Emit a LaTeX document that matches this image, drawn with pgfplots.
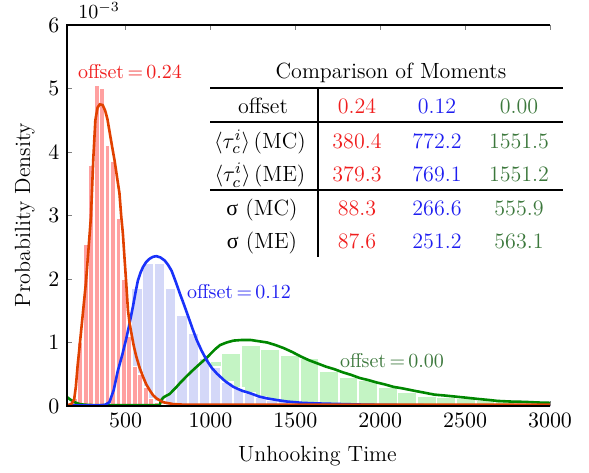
\documentclass[border=0pt]{standalone}
\usepackage{pgfplots}
\pgfplotsset{compat=1.18}
\usepackage{fontspec}
\newfontfamily\grk{Liberation Serif}
\definecolor{redtxt}{RGB}{240,30,30}
\definecolor{bluetxt}{RGB}{30,30,240}
\definecolor{greentxt}{RGB}{60,120,60}
\definecolor{redcurve}{RGB}{225,65,0}
\definecolor{bluecurve}{RGB}{25,50,250}
\definecolor{greencurve}{RGB}{0,135,0}
\definecolor{redbar}{RGB}{255,160,160}
\definecolor{bluebar}{RGB}{212,216,248}
\definecolor{greenbar}{RGB}{196,244,196}

\pgfplotstableread{
x y
202 0.12
234 1.00
266 2.55
298 3.80
330 5.05
362 5.00
394 4.10
426 3.85
458 2.95
490 2.00
522 1.10
554 0.62
586 0.50
618 0.30
650 0.12
682 0.06
714 0.03
}\redhist

\pgfplotstableread{
x y
368 0.04
434 0.25
501 1.05
567 1.86
633 2.25
700 2.25
766 1.86
832 1.43
899 1.15
965 0.75
1031 0.62
1098 0.38
1164 0.28
1230 0.20
1297 0.14
1363 0.10
1429 0.07
1495 0.05
1562 0.04
1628 0.03
1694 0.02
1760 0.015
}\bluehist

\pgfplotstableread{
x y
776 0.20
892 0.46
1007 0.70
1122 0.83
1237 0.96
1352 0.90
1468 0.80
1583 0.75
1698 0.55
1813 0.45
1928 0.41
2044 0.30
2159 0.22
2274 0.16
2389 0.14
2504 0.12
2620 0.09
2735 0.07
2850 0.05
2965 0.04
}\greenhist

\pgfplotstableread{
x y
155 0.01
180 0.03
197 0.10
207 0.30
217 0.62
227 0.88
237 1.15
250 1.50
266 1.93
281 2.45
296 2.98
310 3.90
322 4.50
335 4.70
348 4.75
365 4.74
380 4.65
393 4.52
407 4.30
421 4.08
435 3.87
450 3.60
464 3.35
474 3.00
484 2.72
494 2.32
504 1.93
514 1.51
524 1.30
534 1.15
548 0.95
563 0.78
583 0.60
603 0.46
622 0.34
642 0.25
662 0.17
682 0.12
720 0.06
780 0.03
850 0.02
1000 0.02
3000 0.02
}\redcurve

\pgfplotstableread{
x y
155 0.01
350 0.01
380 0.02
405 0.06
430 0.25
454 0.55
480 0.80
504 1.06
525 1.32
543 1.56
558 1.78
573 1.98
588 2.10
603 2.19
622 2.27
642 2.32
662 2.35
682 2.36
705 2.34
731 2.29
751 2.22
771 2.13
795 1.96
820 1.77
845 1.59
869 1.41
894 1.22
919 1.04
948 0.87
978 0.72
1008 0.60
1038 0.51
1087 0.39
1136 0.30
1186 0.24
1236 0.20
1285 0.15
1334 0.12
1400 0.09
1453 0.07
1540 0.05
1634 0.04
1780 0.03
1930 0.02
2100 0.015
2300 0.01
3000 0.01
}\bluecurve

\pgfplotstableread{
x y
155 0.14
175 0.10
200 0.06
230 0.03
260 0.02
300 0.015
700 0.015
712 0.10
725 0.14
760 0.19
800 0.30
820 0.36
860 0.47
899 0.57
940 0.67
978 0.76
1000 0.82
1030 0.90
1057 0.96
1095 1.00
1136 1.03
1186 1.04
1236 1.04
1285 1.02
1334 1.00
1383 0.96
1433 0.91
1482 0.85
1532 0.78
1581 0.72
1631 0.67
1680 0.62
1730 0.58
1780 0.53
1829 0.49
1880 0.44
1928 0.41
1980 0.37
2027 0.34
2080 0.30
2126 0.28
2200 0.24
2260 0.21
2317 0.18
2380 0.165
2436 0.15
2510 0.13
2580 0.11
2640 0.095
2690 0.08
2770 0.07
2850 0.065
2930 0.055
3000 0.05
}\greencurve

\begin{document}
\fontsize{11}{13}\selectfont
\begin{tikzpicture}
\begin{axis}[
  scale only axis,
  width=241.5pt, height=190.5pt,
  xmin=155, xmax=3000, ymin=0, ymax=6,
  xtick={500,1000,1500,2000,2500,3000},
  ytick={0,1,2,3,4,5,6},
  xtick pos=both, ytick pos=left,
  tick align=inside,
  major tick length=2.5pt,
  scaled ticks=false,
  xticklabel style={/pgf/number format/1000 sep={}},
  axis line style={draw=none},
  clip=true,
]
\addplot[ybar, bar width=115, bar shift=0pt, fill=greenbar, draw=white, line width=0.9pt] table {\greenhist};
\addplot[ybar, bar width=66, bar shift=0pt, fill=bluebar, draw=white, line width=0.9pt] table {\bluehist};
\addplot[ybar, bar width=32, bar shift=0pt, fill=redbar, draw=white, line width=0.8pt] table {\redhist};
\addplot[greencurve, line width=1.3pt, no marks] table {\greencurve};
\addplot[bluecurve, line width=1.3pt, no marks] table {\bluecurve};
\addplot[redcurve, line width=1.3pt, no marks] table {\redcurve};
\coordinate (O) at (rel axis cs:0,0);
\end{axis}
\begin{scope}[shift={(O)}, x=0.5pt, y=-0.5pt, shift={(-67,-406)}]
  % frame (left, bottom, top)
  \draw[line width=0.6pt] (550,25) -- (67,25) -- (67,406) -- (550,406);
  \node[anchor=base west, inner sep=0pt, font=\fontsize{10}{12}\selectfont] at (78,19) {$10^{-3}$};
  \node[rotate=90, anchor=base, inner sep=0pt] at (30,215) {Probability Density};
  \node[anchor=base, inner sep=0pt] at (317.5,461.7) {Unhooking Time};
  % series labels
  \node[anchor=center, inner sep=0pt, text=redtxt, font=\fontsize{10}{12}\selectfont] at (130,72) {offset\,=\,0.24};
  \node[anchor=center, inner sep=0pt, text=bluetxt, font=\fontsize{10}{12}\selectfont] at (239,292) {offset\,=\,0.12};
  \node[anchor=center, inner sep=0pt, text=greentxt, font=\fontsize{10}{12}\selectfont] at (392,361) {offset\,=\,0.00};
  % table
  \node[anchor=base, inner sep=0pt] at (391,78.3) {Comparison of Moments};
  \draw[line width=0.9pt] (210,88) -- (563,88);
  \draw[line width=0.9pt] (210,122) -- (563,122);
  \draw[line width=0.9pt] (210,190) -- (563,190);
  \draw[line width=0.9pt] (318,88) -- (318,257);
  \node[anchor=base, inner sep=0pt] at (263,113.3) {offset};
  \node[anchor=base, inner sep=0pt, text=redtxt] at (357,113.3) {0.24};
  \node[anchor=base, inner sep=0pt, text=bluetxt] at (437,113.3) {0.12};
  \node[anchor=base, inner sep=0pt, text=greentxt] at (519,113.3) {0.00};
  \node[anchor=base, inner sep=0pt] at (260,148.3) {$\langle\tau_c^i\rangle$\,(MC)};
  \node[anchor=base, inner sep=0pt, text=redtxt] at (357,148.3) {380.4};
  \node[anchor=base, inner sep=0pt, text=bluetxt] at (437,148.3) {772.2};
  \node[anchor=base, inner sep=0pt, text=greentxt] at (519,148.3) {1551.5};
  \node[anchor=base, inner sep=0pt] at (260,181.7) {$\langle\tau_c^i\rangle$\,(ME)};
  \node[anchor=base, inner sep=0pt, text=redtxt] at (357,181.7) {379.3};
  \node[anchor=base, inner sep=0pt, text=bluetxt] at (437,181.7) {769.1};
  \node[anchor=base, inner sep=0pt, text=greentxt] at (519,181.7) {1551.2};
  \node[anchor=base, inner sep=0pt] at (262,215) {{\grk σ} (MC)};
  \node[anchor=base, inner sep=0pt, text=redtxt] at (357,215) {88.3};
  \node[anchor=base, inner sep=0pt, text=bluetxt] at (437,215) {266.6};
  \node[anchor=base, inner sep=0pt, text=greentxt] at (519,215) {555.9};
  \node[anchor=base, inner sep=0pt] at (262,248.3) {{\grk σ} (ME)};
  \node[anchor=base, inner sep=0pt, text=redtxt] at (357,248.3) {87.6};
  \node[anchor=base, inner sep=0pt, text=bluetxt] at (437,248.3) {251.2};
  \node[anchor=base, inner sep=0pt, text=greentxt] at (519,248.3) {563.1};
  \pgfresetboundingbox
  \path[use as bounding box] (0,0) rectangle (589,472);
\end{scope}
\end{tikzpicture}
\end{document}
